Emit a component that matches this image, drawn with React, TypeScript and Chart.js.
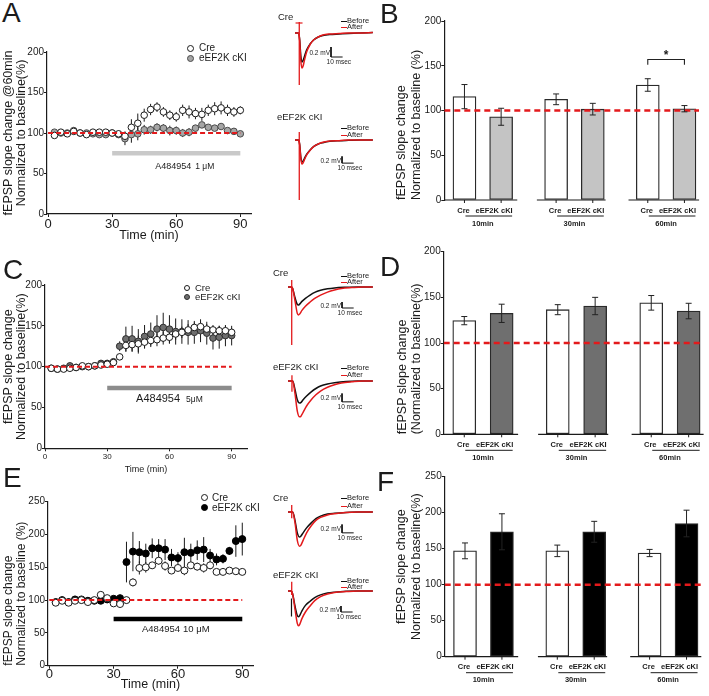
import React, { useEffect, useRef } from 'react';
import { Chart, registerables } from 'chart.js';

Chart.register(...registerables);

const FONT = '"Liberation Sans", Arial, Helvetica, sans-serif';
const INK = '#1b1b1b';
const RED = '#e31a1c';

Chart.defaults.font.family = FONT;
Chart.defaults.color = INK;

// ---------------- time courses (fEPSP slope, % of baseline) ----------------
const sampleTimes = [3, 6, 9, 12, 15, 18, 21, 24, 27, 30, 33, 36, 39, 42, 45, 48, 51, 54, 57, 60, 63, 66, 69, 72, 75, 78, 81, 84, 87, 90];
const timeTicks = [0, 30, 60, 90];
const slopeTicks200 = [0, 50, 100, 150, 200];
const slopeTicks250 = [0, 50, 100, 150, 200, 250];
const baselineLevel = 100;
const drugWindow = [30, 90];
const drugName = 'A484954';
const doseA = '1 μM';
const doseC = '5μM';
const doseE = '10 μM';
const timeAxisTitle = 'Time (min)';
const legendNames = ['Cre', 'eEF2K cKI'];

// A484954 1 µM
const creA = [97, 101, 99, 102, 100, 98, 101, 101, 101, 100, 99, 96, 107, 112, 122, 129, 132, 126, 122, 120, 128, 126, 124, 123, 128, 130, 131, 128, 126, 128];
const creAErr = [2, 2, 2, 2, 2, 2, 2, 2, 2, 2, 4, 6, 10, 12, 8, 7, 6, 6, 6, 6, 7, 8, 7, 8, 7, 8, 8, 7, 6, 5];
const kiA = [101, 100, 100, 103, 100, 100, 99, 98, 98, 100, 98, 93, 98, 99, 104, 104, 107, 106, 103, 103, 100, 101, 106, 110, 107, 106, 108, 103, 102, 99];
const kiAErr = [2, 2, 2, 2, 2, 2, 2, 2, 2, 2, 3, 8, 10, 8, 6, 5, 5, 5, 6, 5, 5, 5, 4, 3, 3, 3, 3, 3, 3, 3];

// A484954 5 µM
const creC = [98, 97, 97, 98, 99, 101, 100, 101, 102, 103, 105, 112, 126, 127, 128, 130, 132, 133, 135, 136, 140, 142, 145, 148, 149, 146, 145, 144, 144, 142];
const creCErr = [2, 2, 2, 2, 2, 2, 2, 2, 2, 2, 3, 4, 8, 8, 10, 8, 8, 8, 8, 8, 7, 7, 7, 6, 6, 6, 6, 6, 6, 5];
const kiC = [98, 97, 98, 101, 99, 100, 100, 101, 104, 104, 106, 125, 134, 134, 131, 137, 140, 146, 148, 146, 143, 143, 142, 142, 144, 141, 135, 136, 138, 138];
const kiCErr = [2, 2, 2, 2, 2, 2, 2, 2, 3, 3, 3, 6, 15, 16, 15, 14, 14, 17, 18, 17, 16, 15, 15, 14, 14, 14, 14, 14, 13, 12];

// A484954 10 µM
const creE = [96, 99, 96, 99, 100, 97, 100, 108, 103, 95, 94, 100, 127, 149, 150, 153, 160, 152, 145, 149, 145, 153, 151, 149, 153, 143, 143, 145, 144, 143];
const creEErr = [2, 2, 2, 2, 2, 2, 2, 3, 2, 3, 3, 5, 6, 10, 8, 5, 6, 7, 5, 5, 7, 5, 6, 7, 6, 3, 3, 3, 3, 4];
const kiE = [97, 100, 97, 101, 101, 99, 99, 99, 101, 102, 103, 158, 174, 173, 171, 179, 179, 177, 165, 164, 173, 172, 176, 177, 168, 162, 163, 175, 190, 193];
const kiEErr = [2, 2, 2, 2, 2, 2, 2, 2, 2, 3, 3, 31, 30, 17, 15, 15, 14, 16, 13, 9, 22, 14, 15, 19, 10, 9, 7, 6, 24, 25];

// ---------------- summary bars ----------------
const barGroups = ['10min', '30min', '60min'];
const genotypes = ['Cre', 'eEF2K cKI'];
const creB = [115.5, 112.5, 128.5];
const creBErr = [13.5, 6, 7];
const kiB = [93, 101.5, 102];
const kiBErr = [9.5, 6.5, 3.5];
const creD = [124.5, 136.5, 144];
const creDErr = [4.5, 5.5, 8];
const kiD = [132.5, 140.5, 135];
const kiDErr = [10, 9.5, 8.5];
const creF = [147, 147, 144];
const creFErr = [11, 8, 5];
const kiF = [173.5, 173.5, 185];
const kiFErr = [25, 14.5, 18.5];
const significance = '*';

// ---------------- example fEPSP traces: [ms, mV] ----------------
type Pt = [number, number];
const scaleBarMv = 0.2;
const scaleBarMs = 10;
const scaleBarMvLabel = '0.2 mV';
const scaleBarMsLabel = '10 msec';

const creABefore: Pt[] = [[6, 0], [9, 0], [10, -0.12], [11, -0.45], [12, -0.58], [13, -0.55], [14, -0.48], [16, -0.34], [19, -0.22], [22, -0.14], [26, -0.08], [30, -0.05], [36, -0.03], [44, -0.02], [52, -0.01], [62, 0], [73, 0.01]];
const creAAfter: Pt[] = [[6, 0], [9, 0], [10, -0.14], [11, -0.55], [12, -0.7], [13, -0.66], [14, -0.56], [16, -0.38], [19, -0.23], [22, -0.14], [26, -0.08], [30, -0.04], [36, -0.02], [44, -0.01], [52, 0], [62, 0], [73, 0.01]];
const kiABefore: Pt[] = [[6, 0], [9, 0], [10, -0.12], [11, -0.5], [12, -0.66], [13, -0.63], [14, -0.56], [16, -0.43], [19, -0.3], [22, -0.2], [26, -0.12], [30, -0.08], [36, -0.04], [44, -0.02], [52, -0.01], [62, 0], [73, 0]];
const kiAAfter: Pt[] = [[6, 0], [9, 0], [10, -0.13], [11, -0.55], [12, -0.72], [13, -0.68], [14, -0.6], [16, -0.45], [19, -0.31], [22, -0.2], [26, -0.12], [30, -0.07], [36, -0.03], [44, -0.02], [52, 0], [62, 0], [73, 0]];

const creCBefore: Pt[] = [[0, 0], [3, 0], [4, -0.05], [6, -0.35], [8, -0.58], [9, -0.6], [10, -0.57], [12, -0.48], [15, -0.38], [19, -0.27], [23, -0.18], [28, -0.11], [34, -0.06], [40, -0.03], [50, -0.01], [60, 0], [73, 0]];
const creCAfter: Pt[] = [[0, 0], [3, 0], [4, -0.05], [6, -0.45], [8, -0.88], [9, -0.93], [10, -0.9], [12, -0.78], [15, -0.64], [19, -0.5], [23, -0.38], [28, -0.27], [34, -0.17], [40, -0.1], [46, -0.05], [55, -0.02], [64, 0], [73, 0]];
const kiCBefore: Pt[] = [[0, 0], [3, 0], [4, 0], [6, -0.2], [8, -0.45], [10, -0.53], [11, -0.52], [13, -0.45], [16, -0.36], [20, -0.26], [24, -0.18], [28, -0.12], [34, -0.07], [40, -0.04], [50, -0.01], [60, 0], [73, 0]];
const kiCAfter: Pt[] = [[0, 0], [3, 0], [4, 0], [6, -0.3], [8, -0.72], [10, -0.86], [11, -0.85], [13, -0.75], [16, -0.6], [20, -0.45], [24, -0.33], [28, -0.24], [34, -0.15], [40, -0.09], [46, -0.05], [55, -0.02], [64, 0], [73, 0]];

const creEBefore: Pt[] = [[0, 0], [3, 0], [4, 0], [6, -0.2], [8, -0.5], [10, -0.6], [11, -0.58], [13, -0.5], [16, -0.38], [20, -0.26], [24, -0.16], [28, -0.1], [34, -0.05], [40, -0.03], [50, -0.01], [60, 0], [73, 0]];
const creEAfter: Pt[] = [[0, 0], [3, 0], [4, 0], [6, -0.25], [8, -0.68], [10, -0.82], [11, -0.8], [13, -0.68], [16, -0.5], [20, -0.33], [24, -0.2], [28, -0.13], [34, -0.07], [40, -0.04], [50, -0.01], [60, 0], [73, 0]];
const kiEBefore: Pt[] = [[0, 0], [3, 0], [4, -0.1], [6, -0.5], [8, -0.82], [9, -0.86], [10, -0.82], [12, -0.66], [15, -0.48], [19, -0.34], [23, -0.22], [28, -0.13], [34, -0.07], [40, -0.04], [50, -0.01], [60, 0], [73, 0]];
const kiEAfter: Pt[] = [[0, 0], [3, 0], [4, -0.1], [6, -0.6], [8, -1.08], [9, -1.16], [10, -1.12], [12, -0.92], [15, -0.7], [19, -0.5], [23, -0.32], [28, -0.19], [34, -0.1], [40, -0.05], [50, -0.02], [60, 0], [73, 0]];

// stimulus artifact: [ms, top mV, bottom mV]
const stimCreA = [9.7, 0.22, -1.04];
const stimKiA = [9.7, 0.24, -1.79];
const stimCreC = [3.2, 0.23, -1.93];
const stimKiC = [3.4, 0.14, -0.26];
const stimCreE = [3.2, 0.17, -0.15];
const stimKiE = [3.2, 0.31, -0.13];

// ---------------- chart builders ----------------
function yAxis(o: any) {
  return {
    min: 0,
    max: o.max,
    afterBuildTicks: (ax: any) => { ax.ticks = o.ticks.map((v: number) => ({ value: v })); },
    afterFit: (ax: any) => { ax.width = o.width; },
    ticks: { font: { size: 10 }, color: INK, padding: 0 },
    grid: { display: true, drawOnChartArea: false, drawTicks: true, tickLength: 3, color: INK, lineWidth: 1 },
    border: { display: true, color: INK, width: 1.2 },
    title: {
      display: true, text: o.title, align: o.align, color: INK,
      font: { size: o.titleSize, lineHeight: o.lh },
      padding: { top: o.pad, bottom: 0 },
    },
  };
}

function timeCoursePlugin(s: any) {
  return {
    id: 'timeCourseMarks',
    beforeDatasetsDraw(chart: any) {
      const { ctx } = chart;
      const xs = chart.scales.x;
      const ys = chart.scales.y;
      ctx.save();
      ctx.strokeStyle = INK;
      ctx.lineWidth = 1;
      chart.data.datasets.forEach((ds: any) => {
        const errs = ds.errors;
        if (!errs) return;
        ds.data.forEach((p: any, j: number) => {
          const px = xs.getPixelForValue(p.x);
          ctx.beginPath();
          ctx.moveTo(px, ys.getPixelForValue(p.y + errs[j]));
          ctx.lineTo(px, ys.getPixelForValue(p.y - errs[j]));
          ctx.stroke();
        });
      });
      ctx.restore();
    },
    afterDatasetsDraw(chart: any) {
      const { ctx } = chart;
      const cx = chart.scales.x.getPixelForValue(s.labelAt[0]);
      const cy = chart.scales.y.getPixelForValue(s.labelAt[1]);
      ctx.save();
      ctx.fillStyle = INK;
      ctx.textBaseline = 'middle';
      ctx.textAlign = 'left';
      const nameFont = `${s.nameSize}px ${FONT}`;
      const doseFont = `${s.doseSize}px ${FONT}`;
      ctx.font = nameFont;
      const w1 = ctx.measureText(drugName).width;
      ctx.font = doseFont;
      const w2 = ctx.measureText(s.dose).width;
      const x0 = cx - (w1 + s.gap + w2) / 2;
      ctx.font = nameFont;
      ctx.fillText(drugName, x0, cy);
      ctx.font = doseFont;
      ctx.fillText(s.dose, x0 + w1 + s.gap, cy + 0.5);
      ctx.restore();
    },
  };
}

function timeCourseConfig(s: any) {
  const pts = (vals: number[]) => sampleTimes.map((t, i) => ({ x: t, y: vals[i] }));
  return {
    type: 'line',
    data: {
      datasets: [
        {
          label: 'baseline',
          data: [{ x: 0, y: baselineLevel }, { x: drugWindow[1], y: baselineLevel }],
          borderColor: RED, borderWidth: 2, borderDash: [5, 3], pointRadius: 0, order: 0,
        },
        {
          label: legendNames[0], data: pts(s.cre), errors: s.creErr, showLine: false,
          pointRadius: s.radius, pointBorderWidth: 1, pointBackgroundColor: '#fff', pointBorderColor: INK, order: 1,
        },
        {
          label: legendNames[1], data: pts(s.ki), errors: s.kiErr, showLine: false,
          pointRadius: s.radius, pointBorderWidth: 1, pointBackgroundColor: s.kiFill, pointBorderColor: s.kiEdge, order: 2,
        },
        {
          label: drugName,
          data: [{ x: drugWindow[0], y: s.drugLevel }, { x: drugWindow[1], y: s.drugLevel }],
          borderColor: s.drugColor, borderWidth: 4.5, borderCapStyle: 'butt', pointRadius: 0, order: 3,
        },
      ],
    },
    options: {
      animation: false,
      responsive: false,
      events: [],
      layout: { padding: { top: s.padTop, right: s.padRight, bottom: 0, left: 0 } },
      plugins: { legend: { display: false }, tooltip: { enabled: false } },
      scales: {
        x: {
          type: 'linear', min: s.xMin, max: s.xMax,
          afterBuildTicks: (ax: any) => { ax.ticks = timeTicks.map((v) => ({ value: v })); },
          afterFit: (ax: any) => { ax.height = s.xHeight; },
          ticks: { font: { size: s.xTickSize }, color: INK, padding: s.xTickPad, maxRotation: 0, autoSkip: false },
          grid: { display: true, drawOnChartArea: false, drawTicks: true, tickLength: 3, color: INK, lineWidth: 1 },
          border: { display: true, color: INK, width: 1.2 },
          title: {
            display: true, text: timeAxisTitle, color: INK,
            font: { size: s.xTitleSize, lineHeight: 1.2 }, padding: { top: 0, bottom: s.xTitlePad },
          },
        },
        y: yAxis({
          max: s.yMax, ticks: s.yTicks, width: s.yWidth, title: s.yTitle, align: s.yTitleAlign,
          titleSize: s.yTitleSize, lh: s.yTitleLH, pad: s.yTitlePad,
        }),
      },
    },
    plugins: [timeCoursePlugin(s)],
  };
}

// bar slots along the broken x axis
const creSlots = [1, 6, 11];
const kiSlots = [3, 8, 13];
const axisSegments = [[-0.1, 3.88], [4.95, 8.7], [9.95, 13.8]];

function barPlugin(s: any) {
  const line = (ctx: any, x1: number, y1: number, x2: number, y2: number) => {
    ctx.beginPath();
    ctx.moveTo(x1, y1);
    ctx.lineTo(x2, y2);
    ctx.stroke();
  };
  return {
    id: 'barMarks',
    afterDatasetsDraw(chart: any) {
      const { ctx } = chart;
      const xs = chart.scales.x;
      const ys = chart.scales.y;
      ctx.save();
      ctx.strokeStyle = '#222';
      ctx.lineWidth = 1;
      chart.data.datasets.forEach((ds: any) => {
        if (!ds.errors) return;
        ds.data.forEach((p: any, j: number) => {
          const px = xs.getPixelForValue(p.x);
          const top = ys.getPixelForValue(p.y + ds.errors[j]);
          const bot = ys.getPixelForValue(p.y - ds.errors[j]);
          line(ctx, px, top, px, bot);
          line(ctx, px - 3, top, px + 3, top);
          line(ctx, px - 3, bot, px + 3, bot);
        });
      });
      if (s.bracket) {
        const b = s.bracket;
        const x1 = xs.getPixelForValue(creSlots[b.group]);
        const x2 = xs.getPixelForValue(kiSlots[b.group]);
        const yTop = ys.getPixelForValue(b.level);
        const yLeg = ys.getPixelForValue(b.legTo);
        ctx.lineWidth = 1.1;
        ctx.beginPath();
        ctx.moveTo(x1, yLeg);
        ctx.lineTo(x1, yTop);
        ctx.lineTo(x2, yTop);
        ctx.lineTo(x2, yLeg);
        ctx.stroke();
        ctx.fillStyle = INK;
        ctx.font = `bold 12px ${FONT}`;
        ctx.textAlign = 'center';
        ctx.textBaseline = 'middle';
        ctx.fillText(significance, (x1 + x2) / 2, ys.getPixelForValue(b.star) + 2);
      }
      ctx.restore();
    },
    afterDraw(chart: any) {
      const { ctx, chartArea } = chart;
      const xs = chart.scales.x;
      const by = chartArea.bottom;
      ctx.save();
      ctx.strokeStyle = INK;
      ctx.lineWidth = 1.2;
      axisSegments.forEach(([a, b]) => line(ctx, xs.getPixelForValue(a), by, xs.getPixelForValue(b), by));
      ctx.lineWidth = 1;
      [...creSlots, ...kiSlots].forEach((v) => {
        const px = xs.getPixelForValue(v);
        line(ctx, px, by, px, by + 3);
      });
      ctx.fillStyle = INK;
      ctx.font = `bold 7.5px ${FONT}`;
      ctx.textAlign = 'center';
      ctx.textBaseline = 'middle';
      barGroups.forEach((g, i) => {
        const c = xs.getPixelForValue(creSlots[i]);
        const k = xs.getPixelForValue(kiSlots[i]);
        ctx.fillText(genotypes[0], c - 1, by + 10.5);
        ctx.fillText(genotypes[1], k - 7, by + 10.5);
        line(ctx, c + 1, by + 16, k + 11, by + 16);
        ctx.fillText(g, (c + k) / 2, by + 23.5);
      });
      ctx.restore();
    },
  };
}

function barConfig(s: any) {
  const barStyle = { borderColor: '#2a2a2a', borderWidth: 1.3, borderSkipped: false, barThickness: 23, grouped: false };
  return {
    type: 'bar',
    data: {
      datasets: [
        {
          type: 'line', label: 'baseline',
          data: [{ x: axisSegments[0][0], y: baselineLevel }, { x: axisSegments[2][1], y: baselineLevel }],
          borderColor: RED, borderWidth: 2.5, borderDash: [6, 4], pointRadius: 0, order: 0,
        },
        {
          type: 'bar', label: genotypes[1], data: kiSlots.map((x, i) => ({ x, y: s.ki[i] })),
          errors: s.kiErr, backgroundColor: s.kiFill, ...barStyle, order: 1,
        },
        {
          type: 'bar', label: genotypes[0], data: creSlots.map((x, i) => ({ x, y: s.cre[i] })),
          errors: s.creErr, backgroundColor: '#ffffff', ...barStyle, order: 2,
        },
      ],
    },
    options: {
      animation: false,
      responsive: false,
      events: [],
      layout: { padding: { top: s.padTop, right: s.padRight, bottom: s.padBottom, left: 0 } },
      plugins: { legend: { display: false }, tooltip: { enabled: false } },
      scales: {
        x: { type: 'linear', display: false, min: axisSegments[0][0], max: axisSegments[2][1], offset: false },
        y: yAxis({
          max: s.yMax, ticks: s.yTicks, width: s.yWidth, title: s.yTitle, align: s.yTitleAlign,
          titleSize: 12.5, lh: s.yTitleLH, pad: s.yTitlePad,
        }),
      },
    },
    plugins: [barPlugin(s)],
  };
}

const traceSpanMs = 74;

function tracePlugin(t: any) {
  return {
    id: 'traceLabels',
    afterDatasetsDraw(chart: any) {
      const { ctx } = chart;
      const xs = chart.scales.x;
      const ys = chart.scales.y;
      const [t0, v0] = t.bar;
      const px = xs.getPixelForValue(t0);
      const px1 = xs.getPixelForValue(t0 + scaleBarMs);
      const py0 = ys.getPixelForValue(v0);
      const py1 = ys.getPixelForValue(v0 + scaleBarMv);
      ctx.save();
      ctx.fillStyle = INK;
      ctx.font = `6.5px ${FONT}`;
      ctx.textBaseline = 'middle';
      ctx.textAlign = 'right';
      ctx.fillText(scaleBarMvLabel, px - 1, (py0 + py1) / 2 + 1);
      ctx.textAlign = 'center';
      ctx.fillText(scaleBarMsLabel, (px + px1) / 2 + 2, py0 + 5.5);
      ctx.restore();
    },
  };
}

function traceConfig(t: any) {
  const yMax = (t.baseline - t.top) / t.pxPerMv;
  const yMin = yMax - t.height / t.pxPerMv;
  const pts = (a: Pt[]) => a.map(([x, y]) => ({ x, y }));
  const [b0, v0] = t.bar;
  const thin = { pointRadius: 0, tension: 0 };
  const datasets: any[] = [
    { label: 'stim', data: [{ x: t.stim[0], y: t.stim[1] }, { x: t.stim[0], y: t.stim[2] }], borderColor: RED, borderWidth: 1.3, ...thin, order: 0 },
    { label: 'After', data: pts(t.after), borderColor: RED, borderWidth: 1.5, pointRadius: 0, cubicInterpolationMode: 'monotone', order: 1 },
    { label: 'Before', data: pts(t.before), borderColor: '#111', borderWidth: 1.5, pointRadius: 0, cubicInterpolationMode: 'monotone', order: 2 },
    {
      label: 'scale',
      data: [{ x: b0, y: v0 + scaleBarMv }, { x: b0, y: v0 }, { x: b0 + scaleBarMs, y: v0 }],
      borderColor: '#111', borderWidth: 1, ...thin, order: 3,
    },
  ];
  if (t.tick) {
    datasets.push({ label: 'tick', data: [{ x: t.tick[0], y: t.tick[2] }, { x: t.tick[1], y: t.tick[2] }], borderColor: RED, borderWidth: 1.2, ...thin, order: 0 });
  }
  if (t.preStim) {
    datasets.push({ label: 'preStim', data: [{ x: t.preStim[0], y: t.preStim[1] }, { x: t.preStim[0], y: t.preStim[2] }], borderColor: '#111', borderWidth: 1.2, ...thin, order: 4 });
  }
  return {
    type: 'line',
    data: { datasets },
    options: {
      animation: false,
      responsive: false,
      events: [],
      layout: { padding: 0 },
      plugins: { legend: { display: false }, tooltip: { enabled: false } },
      scales: {
        x: { type: 'linear', display: false, min: 0, max: traceSpanMs },
        y: { display: false, min: yMin, max: yMax },
      },
    },
    plugins: [tracePlugin(t)],
  };
}

// ---------------- panel specs ----------------
const specA = {
  cre: creA, creErr: creAErr, ki: kiA, kiErr: kiAErr, kiFill: '#a6a6a6', kiEdge: '#4a4a4a', radius: 3.3,
  yMax: 200, yTicks: slopeTicks200, xMin: -0.5, xMax: 95, yWidth: 47, xHeight: 31, padTop: 12, padRight: 5,
  drugColor: '#c9c9c9', drugLevel: 75, dose: doseA, labelAt: [64, 59], nameSize: 9, doseSize: 8.5, gap: 4,
  yTitle: ['fEPSP slope change @60min', 'Normalized to baseline(%)'], yTitleAlign: 'center', yTitleSize: 12.5, yTitleLH: 1.05, yTitlePad: 1.5,
  xTickSize: 13, xTickPad: 0, xTitleSize: 12.5, xTitlePad: 1.5,
};
const specC = {
  cre: creC, creErr: creCErr, ki: kiC, kiErr: kiCErr, kiFill: '#6e6e6e', kiEdge: '#2e2e2e', radius: 3.3,
  yMax: 200, yTicks: slopeTicks200, xMin: 0, xMax: 97.4, yWidth: 45, xHeight: 29.7, padTop: 12, padRight: 5,
  drugColor: '#8c8c8c', drugLevel: 74, dose: doseC, labelAt: [60, 60], nameSize: 11, doseSize: 8.5, gap: 6,
  yTitle: ['fEPSP slope change', 'Normalized to baseline(%)'], yTitleAlign: 'center', yTitleSize: 12.5, yTitleLH: 1.05, yTitlePad: 1.5,
  xTickSize: 8, xTickPad: 1, xTitleSize: 9, xTitlePad: 2.6,
};
const specE = {
  cre: creE, creErr: creEErr, ki: kiE, kiErr: kiEErr, kiFill: '#000000', kiEdge: '#000000', radius: 3.5,
  yMax: 250, yTicks: slopeTicks250, xMin: -0.6, xMax: 95, yWidth: 48, xHeight: 28.3, padTop: 11.7, padRight: 5,
  drugColor: '#000000', drugLevel: 71, dose: doseE, labelAt: [59, 56], nameSize: 9.5, doseSize: 9.5, gap: 3,
  yTitle: ['fEPSP slope change', 'Normalized to baseline (%)'], yTitleAlign: 'start', yTitleSize: 12, yTitleLH: 1.1, yTitlePad: 2,
  xTickSize: 13, xTickPad: -2, xTitleSize: 12.5, xTitlePad: 1.5,
};

const specB = {
  cre: creB, creErr: creBErr, ki: kiB, kiErr: kiBErr, kiFill: '#c4c4c4',
  yMax: 200, yTicks: slopeTicks200, yWidth: 52.3, padTop: 10, padBottom: 30, padRight: 0.9,
  yTitle: ['fEPSP slope change', 'Normalized to baseline (%)'], yTitleAlign: 'start', yTitleLH: 1.2, yTitlePad: 2.2,
  bracket: { group: 2, level: 157, legTo: 151, star: 163 },
};
const specD = {
  cre: creD, creErr: creDErr, ki: kiD, kiErr: kiDErr, kiFill: '#6f6f6f',
  yMax: 200, yTicks: slopeTicks200, yWidth: 51.7, padTop: 9.7, padBottom: 29.7, padRight: 1.4,
  yTitle: ['fEPSP slope change', '(Normalized to baseline(%)'], yTitleAlign: 'start', yTitleLH: 1.1, yTitlePad: 4,
};
const specF = {
  cre: creF, creErr: creFErr, ki: kiF, kiErr: kiFErr, kiFill: '#000000',
  yMax: 250, yTicks: slopeTicks250, yWidth: 52.7, padTop: 10.7, padBottom: 30.3, padRight: 1.7,
  yTitle: ['fEPSP slope change', 'Normalized to baseline(%)'], yTitleAlign: 'center', yTitleLH: 1.2, yTitlePad: 2.5,
};

const traceCreA = { before: creABefore, after: creAAfter, stim: stimCreA, tick: [6.5, 12.5, 0.2], bar: [37, -0.48], baseline: 33, pxPerMv: 50, top: 18, height: 70 };
const traceKiA = { before: kiABefore, after: kiAAfter, stim: stimKiA, bar: [46.5, -0.69], baseline: 140, pxPerMv: 33.5, top: 125, height: 80 };
const traceCreC = { before: creCBefore, after: creCAfter, stim: stimCreC, bar: [46.5, -0.7], baseline: 287, pxPerMv: 30, top: 276, height: 72 };
const traceKiC = { before: kiCBefore, after: kiCAfter, stim: stimKiC, bar: [46.5, -0.5], baseline: 381, pxPerMv: 41.7, top: 370, height: 56 };
const traceCreE = { before: creEBefore, after: creEAfter, stim: stimCreE, bar: [46.5, -0.5], baseline: 512, pxPerMv: 41.7, top: 500, height: 52 };
const traceKiE = { before: kiEBefore, after: kiEAfter, stim: stimKiE, preStim: [3.0, -0.25, -0.85], bar: [45.6, -0.7], baseline: 591, pxPerMv: 30, top: 578, height: 54 };

// ---------------- components ----------------
function ChartCanvas({ left, top, width, height, make }: { left: number; top: number; width: number; height: number; make: () => any }) {
  const ref = useRef<HTMLCanvasElement | null>(null);
  useEffect(() => {
    if (!ref.current) return undefined;
    const chart = new Chart(ref.current, make());
    return () => chart.destroy();
  }, []);
  return <canvas ref={ref} width={width} height={height} style={{ position: 'absolute', left, top, width, height }} />;
}

function Label({ text, x, cy, size, weight }: { text: string; x: number; cy: number; size: number; weight?: number }) {
  return (
    <div style={{ position: 'absolute', left: x, top: cy - size / 2, fontSize: size, lineHeight: `${size}px`, whiteSpace: 'nowrap', fontWeight: weight || 400 }}>
      {text}
    </div>
  );
}

function Letter({ ch, x, y }: { ch: string; x: number; y: number }) {
  return <div style={{ position: 'absolute', left: x, top: y, fontSize: 28, lineHeight: '28px' }}>{ch}</div>;
}

function TraceKey({ x, y1, y2 }: { x: number; y1: number; y2: number }) {
  return (
    <>
      <div style={{ position: 'absolute', left: x, top: y1, width: 6, height: 1, background: '#111' }} />
      <Label text="Before" x={x + 6} cy={y1} size={7.5} />
      <div style={{ position: 'absolute', left: x, top: y2, width: 6, height: 1, background: RED }} />
      <Label text="After" x={x + 6} cy={y2} size={7.5} />
    </>
  );
}

function SeriesKey({ cx, cy1, cy2, tx, size, r, fill, edge }: any) {
  const dot = (cy: number, bg: string, bd: string) => (
    <div style={{ position: 'absolute', left: cx - r, top: cy - r, width: 2 * r, height: 2 * r, borderRadius: '50%', background: bg, border: `1px solid ${bd}`, boxSizing: 'border-box' }} />
  );
  return (
    <>
      {dot(cy1, '#fff', INK)}
      <Label text={legendNames[0]} x={tx} cy={cy1} size={size} />
      {dot(cy2, fill, edge)}
      <Label text={legendNames[1]} x={tx} cy={cy2} size={size} />
    </>
  );
}

export default function App() {
  return (
    <div style={{ position: 'fixed', left: 0, top: 0, width: 709, height: 696, background: '#fff', overflow: 'hidden', fontFamily: FONT, color: INK }}>
      {/* time courses */}
      <ChartCanvas left={0} top={40} width={256} height={205} make={() => timeCourseConfig(specA)} />
      <ChartCanvas left={0} top={273} width={252} height={205} make={() => timeCourseConfig(specC)} />
      <ChartCanvas left={0} top={490} width={258} height={204} make={() => timeCourseConfig(specE)} />

      {/* summary bars */}
      <ChartCanvas left={392} top={11} width={308} height={219} make={() => barConfig(specB)} />
      <ChartCanvas left={392} top={242} width={313} height={222} make={() => barConfig(specD)} />
      <ChartCanvas left={392} top={466} width={311} height={221} make={() => barConfig(specF)} />

      {/* example traces */}
      <ChartCanvas left={288} top={traceCreA.top} width={86} height={traceCreA.height} make={() => traceConfig(traceCreA)} />
      <ChartCanvas left={288} top={traceKiA.top} width={86} height={traceKiA.height} make={() => traceConfig(traceKiA)} />
      <ChartCanvas left={288} top={traceCreC.top} width={86} height={traceCreC.height} make={() => traceConfig(traceCreC)} />
      <ChartCanvas left={288} top={traceKiC.top} width={86} height={traceKiC.height} make={() => traceConfig(traceKiC)} />
      <ChartCanvas left={288} top={traceCreE.top} width={86} height={traceCreE.height} make={() => traceConfig(traceCreE)} />
      <ChartCanvas left={288} top={traceKiE.top} width={86} height={traceKiE.height} make={() => traceConfig(traceKiE)} />

      {/* legends */}
      <SeriesKey cx={190} cy1={48} cy2={58} tx={199} size={10} r={3.5} fill="#a6a6a6" edge="#4a4a4a" />
      <SeriesKey cx={187} cy1={288} cy2={297} tx={195} size={9.5} r={3.3} fill="#6e6e6e" edge="#2e2e2e" />
      <SeriesKey cx={204} cy1={497.5} cy2={507.5} tx={212} size={10} r={3.5} fill="#000" edge="#000" />

      {/* trace captions */}
      <Label text={legendNames[0]} x={278} cy={17} size={9.5} />
      <Label text={legendNames[1]} x={277} cy={117} size={9.5} />
      <Label text={legendNames[0]} x={273} cy={273} size={9.5} />
      <Label text={legendNames[1]} x={273} cy={367} size={9.5} />
      <Label text={legendNames[0]} x={273} cy={498} size={9.5} />
      <Label text={legendNames[1]} x={273} cy={575} size={9.5} />
      <TraceKey x={341} y1={21} y2={27} />
      <TraceKey x={341} y1={128} y2={135} />
      <TraceKey x={341} y1={276} y2={282} />
      <TraceKey x={341} y1={368} y2={375} />
      <TraceKey x={341} y1={498} y2={506} />
      <TraceKey x={341} y1={581} y2={587} />

      {/* panel letters */}
      <Letter ch="A" x={2} y={-1} />
      <Letter ch="B" x={380} y={0} />
      <Letter ch="C" x={3} y={256} />
      <Letter ch="D" x={380} y={253} />
      <Letter ch="E" x={3} y={464} />
      <Letter ch="F" x={377} y={468} />
    </div>
  );
}
